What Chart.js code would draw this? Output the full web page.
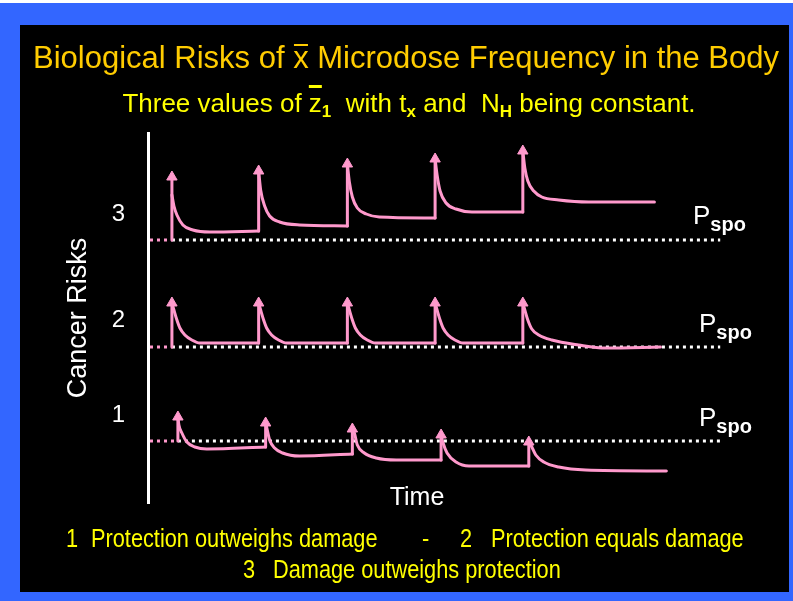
<!DOCTYPE html>
<html>
<head>
<meta charset="utf-8">
<script src="https://cdn.jsdelivr.net/npm/chart.js@4.4.1/dist/chart.umd.min.js"></script>
<style>
html, body { margin: 0; padding: 0; background: #3366ff; }
#slide { position: relative; width: 793px; height: 601px; background: #3366ff; overflow: hidden; font-family: 'Liberation Sans', Arial, sans-serif; }
#topline { position: absolute; left: 0; top: 0; width: 793px; height: 3px; background: #fff; }
#panel { position: absolute; left: 20px; top: 25px; width: 769px; height: 567px; background: #000; }
#wrap { position: absolute; left: 0; top: 0; width: 793px; height: 601px; }
.t { position: absolute; white-space: pre; line-height: 1; }
.c { transform: translateX(-50%); }
.title { left: 406px; top: 42px; font-size: 31px; color: #ffcc00; }
.xbar { position: relative; }
.xbar::before { content: ''; position: absolute; left: 1px; right: 1px; top: 4px; height: 2px; background: currentColor; }
.sub { left: 409px; top: 90px; font-size: 26px; color: #ffff00; }
.sub .zbar { text-decoration: overline; text-decoration-thickness: 3px; }
.sub sub { font-size: 17px; font-weight: bold; vertical-align: -5px; line-height: 1; }
.foot { font-size: 25px; color: #ffff00; transform: scaleX(0.87); transform-origin: 0 0; }
.white { color: #fff; }
.time { left: 417px; top: 484px; font-size: 25px; }
.pspo { font-size: 26px; }
.pspo sub { font-size: 20px; font-weight: bold; vertical-align: -7px; line-height: 1; }
</style>
</head>
<body>
<div id="slide">
  <div id="topline"></div>
  <div id="panel"></div>
  <div id="wrap"><canvas id="chart"></canvas></div>
  <div class="t c title">Biological Risks of <span class="xbar">x</span> Microdose Frequency in the Body</div>
  <div class="t c sub">Three values of <span class="zbar">z</span><sub>1</sub>  with t<sub>x</sub> and  N<sub>H</sub> being constant.</div>
  <div class="t c white time">Time</div>
  <div class="t white pspo" style="left:693px; top:202px;">P<sub>spo</sub></div>
  <div class="t white pspo" style="left:699px; top:310px;">P<sub>spo</sub></div>
  <div class="t white pspo" style="left:699px; top:404px;">P<sub>spo</sub></div>
  <div class="t foot" style="left:66px; top:526px;">1</div>
  <div class="t foot" style="left:91px; top:526px;">Protection outweighs damage</div>
  <div class="t foot" style="left:422px; top:526px;">-</div>
  <div class="t foot" style="left:460px; top:526px;">2</div>
  <div class="t foot" style="left:491px; top:526px;">Protection equals damage</div>
  <div class="t foot" style="left:243px; top:557px;">3</div>
  <div class="t foot" style="left:273px; top:557px;">Damage outweighs protection</div>
</div>
<script>
// risk axis labels
const riskTickValues = [8.75, 18.3, 28.85];
const riskTickLabels = ['1', '2', '3'];

// spontaneous risk level (dotted) for curves 1, 2, 3
const pspoLevel = [6.2, 15.6, 26.3];
const pspoStart = [3.0, 2.4, 2.4];
const pspoEnd = 57.4;

// curve 3: damage outweighs protection
const pulseX3 = [2.4, 11.1, 20.0, 28.8, 37.6];
const riseFrom3 = [26.3, 27.2, 27.7, 28.5, 29.1];
const peakY3 = [32.6, 33.2, 33.9, 34.4, 35.2];
const decay3 = [
  [[2.4, 30.8], [2.6, 29.7], [2.9, 28.8], [3.5, 27.8], [4.5, 27.3], [6.2, 27.1], [11.1, 27.2]],
  [[11.1, 33.2], [11.3, 31.3], [11.7, 29.7], [12.2, 28.7], [13.2, 28.1], [15.2, 27.8], [20.0, 27.7]],
  [[20.0, 33.9], [20.2, 32.1], [20.5, 30.6], [21.0, 29.5], [21.9, 28.9], [23.2, 28.6], [28.8, 28.5]],
  [[28.8, 34.4], [29.0, 32.8], [29.3, 31.2], [29.9, 30.0], [30.9, 29.4], [32.5, 29.1], [37.6, 29.1]],
  [[37.6, 35.2], [37.8, 33.5], [38.1, 32.2], [38.7, 31.2], [39.5, 30.6], [41.2, 30.3], [44.2, 30.1], [50.8, 30.1]]
];

// curve 2: protection equals damage
const pulseX2 = [2.4, 11.1, 20.0, 28.8, 37.6];
const riseFrom2 = [15.6, 16.0, 16.0, 16.0, 16.0];
const peakY2 = [20.0, 20.0, 20.0, 20.0, 20.0];
const decay2 = [
  [[2.4, 20.0], [2.6, 19.3], [2.9, 18.3], [3.2, 17.5], [3.7, 16.8], [4.4, 16.3], [5.2, 16.0], [11.1, 16.0]],
  [[11.1, 20.0], [11.3, 19.3], [11.6, 18.3], [11.9, 17.5], [12.4, 16.8], [13.1, 16.3], [13.9, 16.0], [20.0, 16.0]],
  [[20.0, 20.0], [20.2, 19.3], [20.5, 18.3], [20.8, 17.5], [21.3, 16.8], [22.0, 16.3], [22.8, 16.0], [28.8, 16.0]],
  [[28.8, 20.0], [29.0, 19.3], [29.3, 18.3], [29.6, 17.5], [30.1, 16.8], [30.8, 16.3], [31.6, 16.0], [37.6, 16.0]],
  [[37.6, 20.0], [37.8, 19.3], [38.1, 18.3], [38.5, 17.4], [39.2, 16.8], [40.5, 16.3], [43.2, 15.8], [45.9, 15.5], [51.4, 15.6]]
];

// curve 1: protection outweighs damage
const pulseX1 = [3.0, 11.8, 20.5, 29.4, 38.2];
const riseFrom1 = [6.2, 5.6, 4.9, 4.3, 3.7];
const peakY1 = [8.6, 8.0, 7.4, 6.8, 6.1];
const decay1 = [
  [[3.0, 8.6], [3.1, 7.8], [3.4, 7.0], [3.9, 6.1], [4.7, 5.6], [5.9, 5.4], [11.8, 5.6]],
  [[11.8, 8.0], [11.9, 7.6], [12.2, 6.3], [12.7, 5.5], [13.5, 5.0], [15.2, 4.7], [20.5, 4.9]],
  [[20.5, 7.4], [20.7, 7.0], [21.0, 5.8], [21.7, 5.0], [22.9, 4.5], [24.9, 4.3], [29.4, 4.3]],
  [[29.4, 6.8], [29.6, 6.0], [30.0, 5.0], [30.9, 4.1], [32.2, 3.7], [38.2, 3.7]],
  [[38.2, 6.1], [38.4, 5.8], [38.9, 4.8], [39.7, 4.1], [41.2, 3.6], [43.9, 3.3], [52.0, 3.2]]
];

const pink = '#ff99cc';

function decayLine(pts) {
  return {
    data: pts.map(p => ({x: p[0], y: p[1]})),
    borderColor: pink,
    borderWidth: 3,
    pointRadius: 0,
    cubicInterpolationMode: 'monotone',
    borderCapStyle: 'round',
    borderJoinStyle: 'round'
  };
}
function risers(xs, from, to) {
  const data = [];
  // y: null breaks the line between risers
  xs.forEach((x, i) => { data.push({x: x, y: from[i]}, {x: x, y: to[i]}, {x: x, y: null}); });
  return {
    data: data,
    borderColor: pink,
    borderWidth: 3,
    pointRadius: 0,
    tension: 0,
    spanGaps: false,
    borderCapStyle: 'round'
  };
}
function arrows(xs, ys) {
  return {
    data: xs.map((x, i) => ({x: x, y: ys[i]})),
    showLine: false,
    pointStyle: 'triangle',
    pointRadius: 6,
    pointBackgroundColor: pink,
    pointBorderColor: pink,
    pointBorderWidth: 1
  };
}
function dotted(x0, x1, y, color) {
  return {
    data: [{x: x0, y: y}, {x: x1, y: y}],
    borderColor: color,
    borderWidth: 3,
    borderDash: [3, 4],
    borderCapStyle: 'butt',
    pointRadius: 0
  };
}

const datasets = [
  arrows(pulseX3, peakY3), arrows(pulseX2, peakY2), arrows(pulseX1, peakY1),
  risers(pulseX3, riseFrom3, peakY3), risers(pulseX2, riseFrom2, peakY2), risers(pulseX1, riseFrom1, peakY1)
];
[decay3, decay2, decay1].forEach(d => d.forEach(pts => datasets.push(decayLine(pts))));
pspoLevel.forEach((y, i) => datasets.push(dotted(0.2, pspoStart[i], y, pink)));
pspoLevel.forEach((y, i) => datasets.push(dotted(pspoStart[i], pspoEnd, y, '#ffffff')));

new Chart(document.getElementById('chart'), {
  type: 'line',
  data: {datasets: datasets},
  options: {
    responsive: true,
    maintainAspectRatio: false,
    animation: false,
    events: [],
    layout: {padding: {left: 0, top: 133, right: 5, bottom: 98}},
    plugins: {legend: {display: false}, tooltip: {enabled: false}},
    scales: {
      x: {type: 'linear', min: 0, max: 64, display: false},
      y: {
        type: 'linear',
        min: 0,
        max: 37,
        afterFit: (s) => { s.width = 148; },
        afterBuildTicks: (s) => { s.ticks = riskTickValues.map(v => ({value: v})); },
        ticks: {
          color: '#ffffff',
          padding: 23,
          font: {family: 'Liberation Sans', size: 24},
          callback: (v, i) => riskTickLabels[i]
        },
        grid: {display: true, color: 'transparent', drawTicks: false},
        border: {display: true, color: '#ffffff', width: 3},
        title: {
          display: true,
          text: 'Cancer Risks',
          color: '#ffffff',
          font: {family: 'Liberation Sans', size: 27},
          padding: {top: 62, bottom: 0}
        }
      }
    }
  }
});
</script>
</body>
</html>
